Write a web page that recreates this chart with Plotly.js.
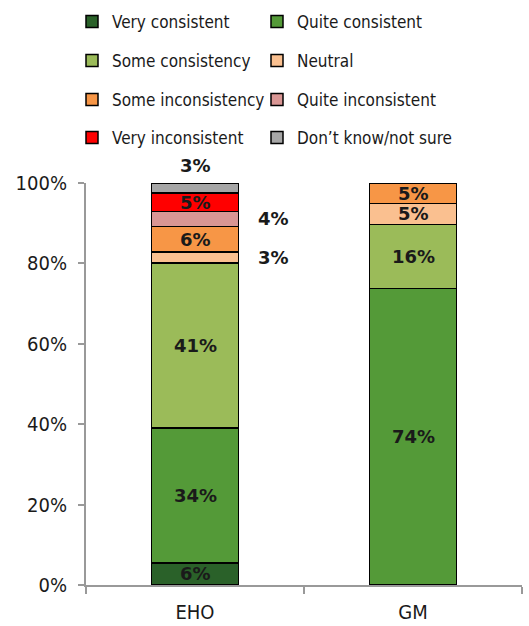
<!DOCTYPE html>
<html>
<head>
<meta charset="utf-8">
<script src="https://cdn.plot.ly/plotly-3.0.1.min.js"></script>
<style>html,body{margin:0;padding:0;background:#fff}#chart{width:529px;height:626px}</style>
</head>
<body>
<div id="chart"></div>
<script>
const categories = ["EHO", "GM"];
const seriesNames = ["Very consistent", "Quite consistent", "Some consistency", "Neutral",
  "Some inconsistency", "Quite inconsistent", "Very inconsistent", "Don\u2019t know/not sure"];
const veryConsistent    = [5.5, 0];
const quiteConsistent   = [33.6, 73.7];
const someConsistency   = [41.0, 16.0];
const neutral           = [2.7, 5.2];
const someInconsistency = [6.4, 5.1];
const quiteInconsistent = [3.7, 0];
const veryInconsistent  = [4.6, 0];
const dontKnow          = [2.5, 0];
// labels shown (rounded %) ; "" = not shown
const labelText = [
  ["6%", ""], ["34%", "74%"], ["41%", "16%"], ["3%", "5%"],
  ["6%", "5%"], ["4%", ""], ["5%", ""], ["3%", ""]
];
// where each label sits: "in" inside, "right" right of bar, "top" above bar
const labelPlace = [
  ["in", "in"], ["in", "in"], ["in", "in"], ["right", "in"],
  ["in", "in"], ["right", "in"], ["in", "in"], ["top", "in"]
];
const colors = ["#2a6129", "#549a38", "#9bbb59", "#fac090", "#f79646", "#d99694", "#ff0000", "#a6a6a6"];

const values = [veryConsistent, quiteConsistent, someConsistency, neutral,
  someInconsistency, quiteInconsistent, veryInconsistent, dontKnow];

const condensed = {family: "DejaVu Sans Condensed, DejaVu Sans", stretch: "condensed", color: "#1a1a1a"};

const traces = values.map((v, i) => ({
  type: "bar",
  name: seriesNames[i],
  x: categories,
  y: v,
  marker: {color: colors[i], line: {color: "#000", width: 1.5}},
  legend: i === 0 ? "legend" : "legend" + (i + 1),
  hoverinfo: "none"
}));

const annotations = [];
const cum = categories.map(() => 0);
values.forEach((v, i) => {
  categories.forEach((c, j) => {
    const base = cum[j];
    cum[j] += v[j];
    const t = labelText[i][j];
    if (!t) return;
    const place = labelPlace[i][j];
    const a = {xref: "x", yref: "y", x: c, y: base + v[j] / 2, text: t, showarrow: false,
      font: {family: "DejaVu Sans", size: 18, color: "#1a1a1a", weight: "bold"}};
    if (place === "right") { a.xshift = 78; }
    if (place === "top") { a.y = cum[j]; a.yshift = 18; }
    annotations.push(a);
  });
});

const legRowsPix = [22, 61, 100, 138];
const legColPix = [72, 257];
const plotTop = 183, plotH = 402, plotLeft = 86, plotW = 436;
function legend(i) {
  const row = Math.floor(i / 2), col = i % 2;
  return {orientation: "v", x: (legColPix[col] - plotLeft) / plotW, xanchor: "left",
    y: 1 + (plotTop - legRowsPix[row]) / plotH, yanchor: "middle", itemwidth: 30,
    font: Object.assign({size: 17}, condensed), bgcolor: "rgba(0,0,0,0)"};
}

const layout = {
  width: 529, height: 626,
  margin: {l: 86, r: 7, t: 183, b: 41, autoexpand: false},
  barmode: "stack",
  bargap: 0.6,
  paper_bgcolor: "#fff", plot_bgcolor: "#fff",
  font: Object.assign({size: 17}, condensed),
  showlegend: true,
  xaxis: {type: "category", showline: true, linecolor: "#999", linewidth: 2, ticks: "outside",
    tickson: "boundaries", ticklen: 7, tickcolor: "#999", tickwidth: 2, ticklabelstandoff: 8,
    tickfont: Object.assign({size: 20}, condensed), showgrid: false, zeroline: false},
  yaxis: {range: [0, 100], tickvals: [0, 20, 40, 60, 80, 100], ticktext: ["0%", "20%", "40%", "60%", "80%", "100%"],
    showline: true, linecolor: "#999", linewidth: 2, ticks: "outside", ticklen: 6, tickcolor: "#999", tickwidth: 2,
    ticklabelstandoff: 7,
    tickfont: Object.assign({size: 20}, condensed), showgrid: false, zeroline: false},
  annotations: annotations
};
for (let i = 0; i < 8; i++) layout[i === 0 ? "legend" : "legend" + (i + 1)] = legend(i);

Plotly.newPlot("chart", traces, layout, {staticPlot: true, displayModeBar: false});
</script>
</body>
</html>
